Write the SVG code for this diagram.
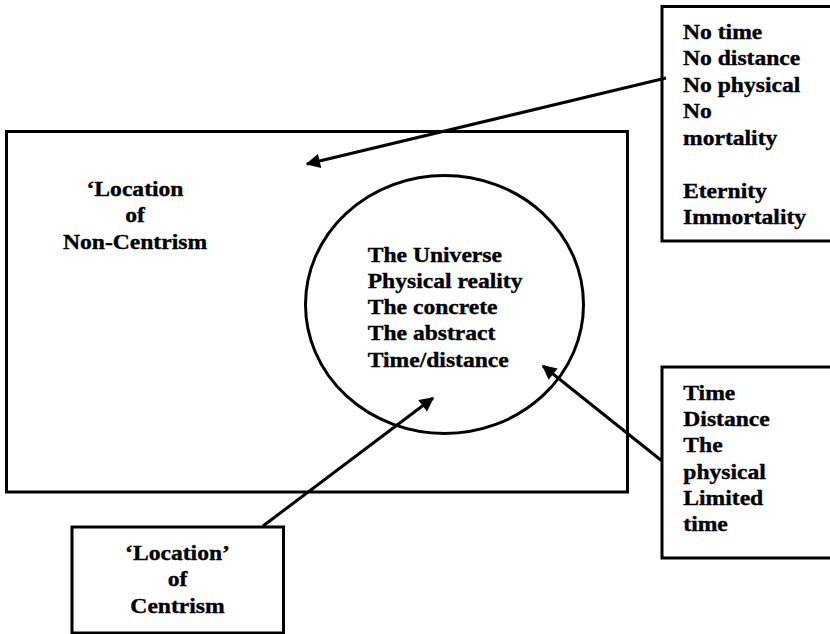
<svg xmlns="http://www.w3.org/2000/svg" width="830" height="634" viewBox="0 0 830 634">
<defs>
<style>
.box{fill:none;stroke:#000;stroke-width:3}
.conn{stroke:#000;stroke-width:3;fill:none;marker-end:url(#ah)}
text{stroke:#000;stroke-width:0.35}
</style>
<marker id="ah" viewBox="0 0 10 10" refX="9" refY="5" markerWidth="5.7" markerHeight="4.8" orient="auto" markerUnits="strokeWidth">
<path d="M0,0 L10,5 L0,10 z" fill="#000"/>
</marker>
</defs>
<rect width="830" height="634" fill="#fff"/>
<g font-family="'Liberation Serif', 'Times New Roman', Times, serif" font-weight="bold" font-size="20" fill="#000">
<g id="noncentrism">
<rect class="box" x="6.5" y="131.5" width="621" height="360.5"/>
<text text-anchor="middle" transform="translate(135,196) scale(1.18,1)"><tspan x="0" y="0">‘Location</tspan><tspan x="0" y="26.5">of</tspan><tspan x="0" y="53">Non-Centrism</tspan></text>
</g>
<g id="universe">
<ellipse class="box" cx="444.5" cy="304.5" rx="139" ry="129"/>
<text transform="translate(367.7,262.3) scale(1.18,1)"><tspan x="0" y="0">The Universe</tspan><tspan x="0" y="26">Physical reality</tspan><tspan x="0" y="52">The concrete</tspan><tspan x="0" y="78.2">The abstract</tspan><tspan x="0" y="104.4">Time/distance</tspan></text>
</g>
<g id="eternity">
<rect class="box" x="662" y="6.5" width="180" height="234.5"/>
<text transform="translate(683,39) scale(1.18,1)"><tspan x="0" y="0">No time</tspan><tspan x="0" y="26.5">No distance</tspan><tspan x="0" y="53">No physical</tspan><tspan x="0" y="79.5">No</tspan><tspan x="0" y="106">mortality</tspan><tspan x="0" y="159">Eternity</tspan><tspan x="0" y="185.5">Immortality</tspan></text>
</g>
<g id="limited">
<rect class="box" x="662" y="367" width="180" height="191"/>
<text transform="translate(683.3,400) scale(1.18,1)"><tspan x="0" y="0">Time</tspan><tspan x="0" y="26.2">Distance</tspan><tspan x="0" y="52.4">The</tspan><tspan x="0" y="78.6">physical</tspan><tspan x="0" y="104.8">Limited</tspan><tspan x="0" y="131">time</tspan></text>
</g>
<g id="centrism">
<rect class="box" x="72" y="527" width="211.5" height="106"/>
<text text-anchor="middle" transform="translate(177.5,560) scale(1.18,1)"><tspan x="0" y="0">‘Location’</tspan><tspan x="0" y="26.5">of</tspan><tspan x="0" y="53">Centrism</tspan></text>
</g>
</g>
<g id="connectors">
<line class="conn" x1="666" y1="78" x2="307" y2="164"/>
<line class="conn" x1="662" y1="461" x2="543" y2="366"/>
<line class="conn" x1="263" y1="526" x2="433" y2="398"/>
</g>
</svg>
